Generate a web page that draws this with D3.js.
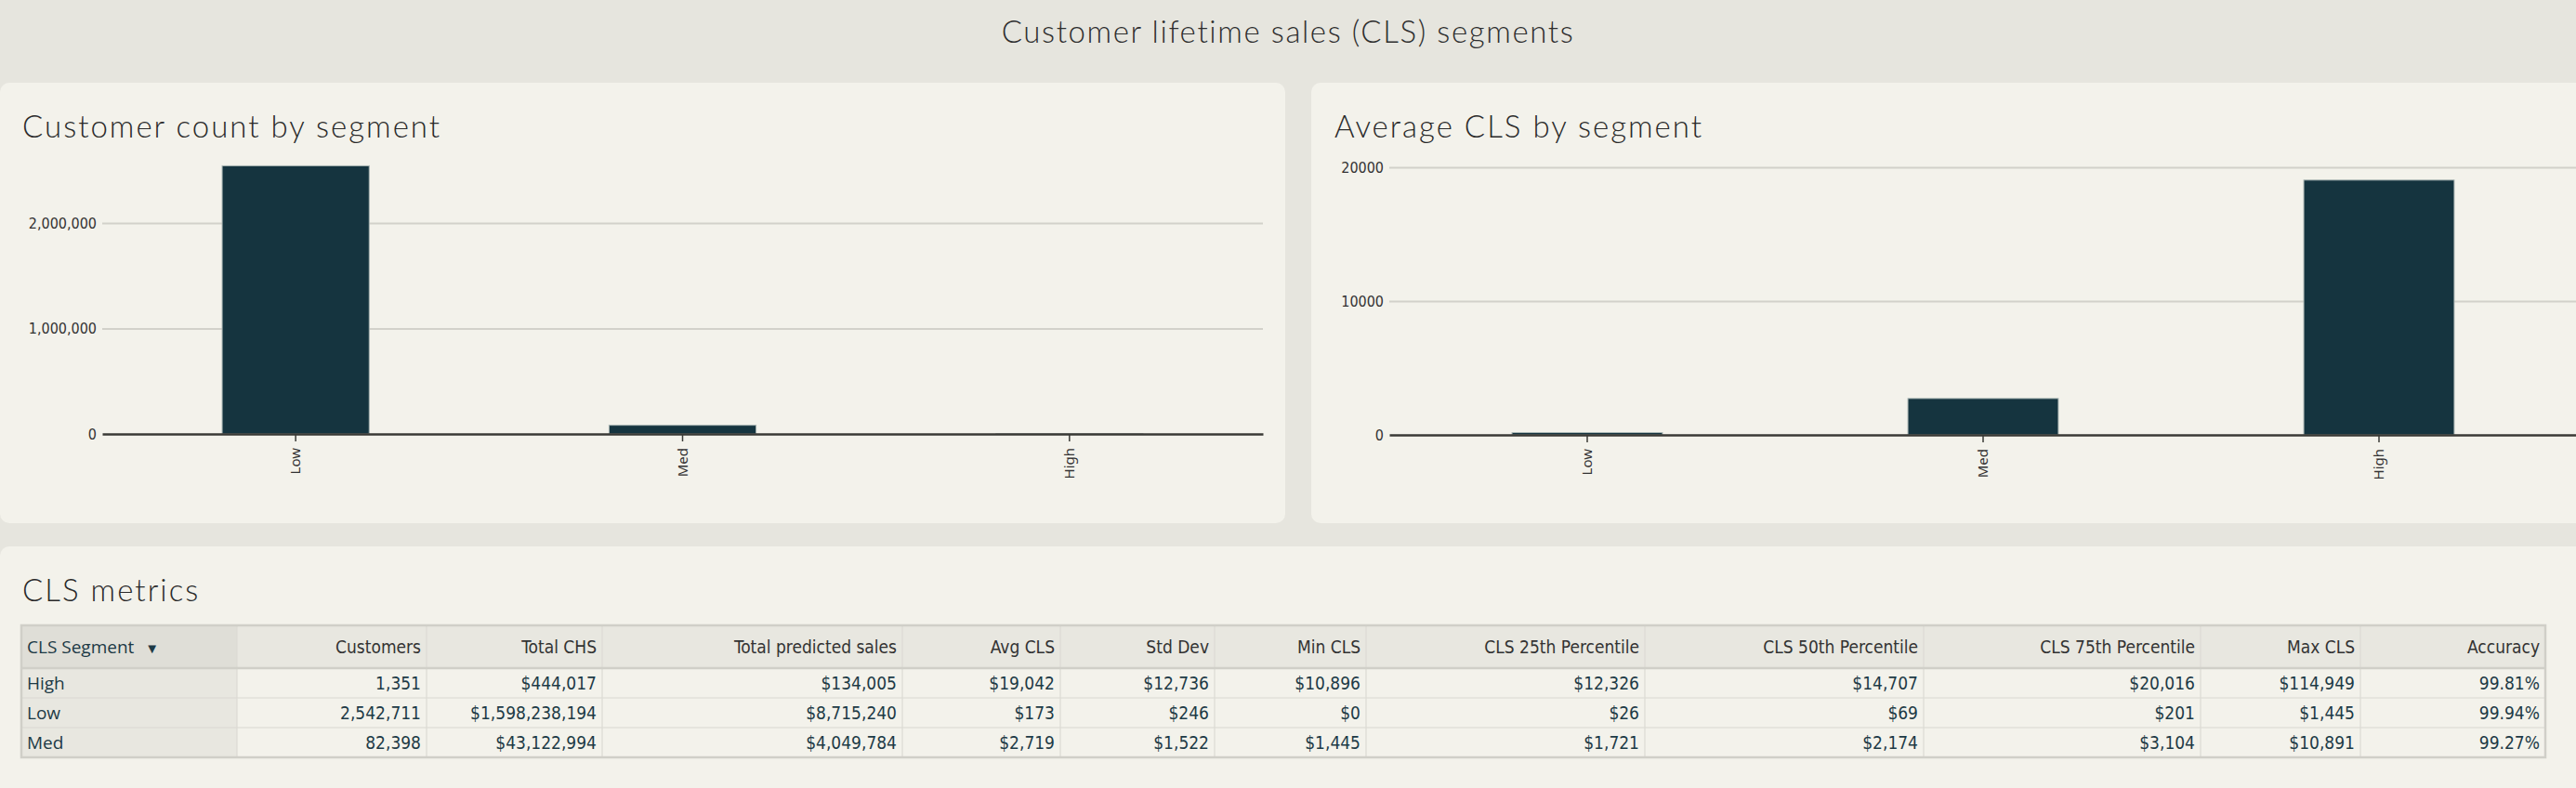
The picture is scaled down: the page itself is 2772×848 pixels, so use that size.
<!DOCTYPE html>
<html>
<head>
<meta charset="utf-8">
<script src="https://cdn.jsdelivr.net/npm/d3@7"></script>
<style>
  html, body { margin: 0; padding: 0; background: #e6e5de; }
  svg { display: block; }
</style>
</head>
<body>
<svg id="chart" width="2772" height="848"></svg>
<script>
// ---------------- DATA ----------------
const segments = ["High", "Low", "Med"];
const customers = [1351, 2542711, 82398];
const totalCHS = [444017, 1598238194, 43122994];
const totalPredicted = [134005, 8715240, 4049784];
const avgCLS = [19042, 173, 2719];
const stdDev = [12736, 246, 1522];
const minCLS = [10896, 0, 1445];
const p25 = [12326, 26, 1721];
const p50 = [14707, 69, 2174];
const p75 = [20016, 201, 3104];
const maxCLS = [114949, 1445, 10891];
const accuracy = [99.81, 99.94, 99.27];

const chartCategories = ["Low", "Med", "High"];
const countTicks = [0, 1000000, 2000000];
const avgTicks = [0, 10000, 20000];

const tableHeaders = ["CLS Segment", "Customers", "Total CHS", "Total predicted sales", "Avg CLS",
  "Std Dev", "Min CLS", "CLS 25th Percentile", "CLS 50th Percentile", "CLS 75th Percentile",
  "Max CLS", "Accuracy"];

// ---------------- STYLE ----------------
const BG = "#e6e5de", PANEL = "#f3f2eb", BAR = "#15343f", BAR_EDGE = "#a9b5b3";
const GRID = "#d2d1ca", AXIS = "#3a3a36", TXT = "#333333", TEAL = "#1d3a46";
const titleFont = "'Lato', 'Open Sans', sans-serif";
const condFont = "'DejaVu Sans Condensed', 'Liberation Sans Narrow', 'Roboto', sans-serif";
const geoFont = "'Open Sans', 'Noto Sans', sans-serif";

const svg = d3.select("#chart");
svg.append("rect").attr("width", 2772).attr("height", 848).attr("fill", BG);

// main title
svg.append("text").attr("x", 1386).attr("y", 46).attr("text-anchor", "middle")
  .style("font-family", titleFont).style("font-weight", 300).style("font-size", "33px")
  .style("letter-spacing", "1.6px").attr("fill", "#2e2e2e")
  .text("Customer lifetime sales (CLS) segments");

// panels
const panels = [
  {x: 0, y: 89, w: 1383, h: 474},
  {x: 1411, y: 89, w: 1420, h: 474},
  {x: 0, y: 588, w: 2830, h: 300}
];
svg.selectAll("rect.panel").data(panels).join("rect").attr("class", "panel")
  .attr("x", d => d.x).attr("y", d => d.y).attr("width", d => d.w).attr("height", d => d.h)
  .attr("rx", 10).attr("fill", PANEL);

function panelTitle(x, y, t) {
  svg.append("text").attr("x", x).attr("y", y)
    .style("font-family", titleFont).style("font-weight", 300).style("font-size", "33px")
    .style("letter-spacing", "2px").attr("fill", "#2a2a2a").text(t);
}
panelTitle(24, 148, "Customer count by segment");
panelTitle(1436, 148, "Average CLS by segment");
panelTitle(24, 647, "CLS metrics");

// ---------------- BAR CHARTS ----------------
function barChart(opts) {
  const g = svg.append("g");
  const x = d3.scaleBand().domain(chartCategories).range([opts.x0, opts.x1])
    .paddingInner(0.62).paddingOuter(0.31);
  const y = d3.scaleLinear().domain([0, opts.ymax]).range([opts.y0, opts.ytop]);

  // gridlines + y labels
  const ya = g.append("g").attr("transform", `translate(${opts.x0},0)`)
    .call(d3.axisLeft(y).tickValues(opts.ticks).tickFormat(opts.fmt)
      .tickSize(-(opts.x1 - opts.x0)).tickPadding(6));
  ya.select(".domain").remove();
  ya.selectAll(".tick line").attr("stroke", GRID).attr("stroke-width", 2)
    .filter(d => d === 0).remove();
  ya.selectAll(".tick text").attr("fill", TXT)
    .style("font-family", condFont).style("font-size", "16px");

  // bars
  g.selectAll("rect.bar").data(chartCategories).join("rect").attr("class", "bar")
    .attr("x", d => x(d)).attr("width", x.bandwidth())
    .attr("y", d => y(opts.value(d))).attr("height", d => opts.y0 - y(opts.value(d)))
    .attr("fill", BAR).attr("stroke", BAR_EDGE).attr("stroke-width", 1);

  // x axis
  const xa = g.append("g").attr("transform", `translate(0,${opts.y0})`)
    .call(d3.axisBottom(x).tickSize(8).tickSizeOuter(0));
  xa.select(".domain").attr("stroke", AXIS).attr("stroke-width", 2.5);
  xa.selectAll(".tick line").attr("stroke", AXIS).attr("stroke-width", 1.5);
  xa.selectAll(".tick text")
    .attr("transform", "rotate(-90)").attr("x", -15).attr("y", 0).attr("dy", "0.35em")
    .style("text-anchor", "end").attr("fill", TXT)
    .style("font-family", "'Noto Sans', 'Open Sans', sans-serif").style("font-size", "15px");
}

const idx = s => segments.indexOf(s);
barChart({
  x0: 110, x1: 1359, y0: 467, ytop: 467 - 2.6 * 113.5, ymax: 2600000,
  ticks: countTicks, fmt: d3.format(","),
  value: c => customers[idx(c)]
});
barChart({
  x0: 1495, x1: 2773, y0: 468, ytop: 468 - 2.6 * 144, ymax: 26000,
  ticks: avgTicks, fmt: d3.format("d"),
  value: c => avgCLS[idx(c)]
});

// ---------------- TABLE ----------------
const colEdges = [23, 255, 459, 648, 971, 1141, 1307, 1470, 1770, 2070, 2368, 2540, 2739];
const tTop = 673, headH = 46, rowH = 32;
const money = d3.format("$,");
const num = d3.format(",");
const rows = segments.map((s, i) => [
  s, num(customers[i]), money(totalCHS[i]), money(totalPredicted[i]), money(avgCLS[i]),
  money(stdDev[i]), money(minCLS[i]), money(p25[i]), money(p50[i]), money(p75[i]),
  money(maxCLS[i]), accuracy[i].toFixed(2) + "%"
]);
const tBottom = tTop + headH + rowH * rows.length;
const tg = svg.append("g");

// backgrounds
tg.append("rect").attr("x", colEdges[0]).attr("y", tTop)
  .attr("width", colEdges[12] - colEdges[0]).attr("height", headH).attr("fill", "#e8e7e0");
tg.append("rect").attr("x", colEdges[0]).attr("y", tTop)
  .attr("width", colEdges[1] - colEdges[0]).attr("height", headH).attr("fill", "#dfded7");
tg.append("rect").attr("x", colEdges[0]).attr("y", tTop + headH)
  .attr("width", colEdges[1] - colEdges[0]).attr("height", rowH * rows.length).attr("fill", "#e8e7e0");

// row lines
rows.forEach((r, i) => {
  if (i > 0) tg.append("line").attr("x1", colEdges[0]).attr("x2", colEdges[12])
    .attr("y1", tTop + headH + rowH * i).attr("y2", tTop + headH + rowH * i)
    .attr("stroke", "#d9d8d1").attr("stroke-width", 1.2);
});
// column lines
colEdges.slice(1, -1).forEach(cx => {
  tg.append("line").attr("x1", cx).attr("x2", cx).attr("y1", tTop).attr("y2", tBottom)
    .attr("stroke", "#dcdbd4").attr("stroke-width", 1.2);
});
tg.append("line").attr("x1", colEdges[0]).attr("x2", colEdges[12])
  .attr("y1", tTop + headH).attr("y2", tTop + headH).attr("stroke", "#d0cfc8").attr("stroke-width", 2.5);
tg.append("rect").attr("x", colEdges[0]).attr("y", tTop)
  .attr("width", colEdges[12] - colEdges[0]).attr("height", tBottom - tTop)
  .attr("fill", "none").attr("stroke", "#d0cfc8").attr("stroke-width", 2.5);

// header text
tableHeaders.forEach((h, j) => {
  if (j === 0) {
    const t = tg.append("text").attr("x", colEdges[0] + 6).attr("y", tTop + headH / 2).attr("dy", "0.35em")
      .style("font-family", geoFont).style("font-size", "19px").attr("fill", TEAL);
    t.append("tspan").text(h);
    t.append("tspan").attr("dx", 12).style("font-size", "15px").text("\u25BC");
  } else {
    tg.append("text").attr("x", colEdges[j + 1] - 6).attr("y", tTop + headH / 2).attr("dy", "0.35em")
      .attr("text-anchor", "end").style("font-family", condFont).style("font-size", "19px")
      .attr("fill", TXT).text(h);
  }
});
// body text
rows.forEach((r, i) => {
  const cy = tTop + headH + rowH * i + rowH / 2;
  r.forEach((v, j) => {
    if (j === 0) {
      tg.append("text").attr("x", colEdges[0] + 6).attr("y", cy).attr("dy", "0.35em")
        .style("font-family", geoFont).style("font-size", "19px").attr("fill", TEAL).text(v);
    } else {
      tg.append("text").attr("x", colEdges[j + 1] - 6).attr("y", cy).attr("dy", "0.35em")
        .attr("text-anchor", "end").style("font-family", condFont).style("font-size", "19px")
        .attr("fill", TEAL).text(v);
    }
  });
});
</script>
</body>
</html>
